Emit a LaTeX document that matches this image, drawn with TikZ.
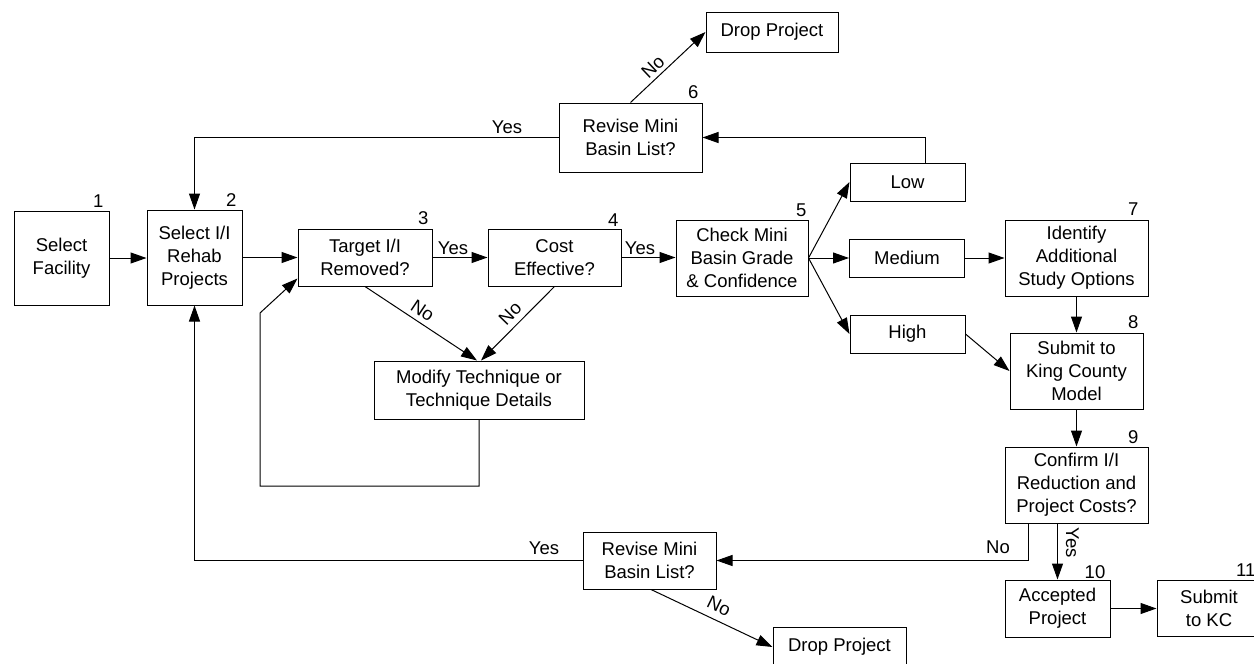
\documentclass[tikz,border=0pt]{standalone}
\usepackage{fontspec}
\setmainfont{Liberation Sans}
\usetikzlibrary{arrows.meta}
\begin{document}
\begin{tikzpicture}[x=1pt,y=-1pt,
  txt/.style={font=\fontsize{18.5}{23}\selectfont},
  box/.style={txt, draw, line width=1pt, rectangle, inner sep=0pt, align=center},
  num/.style={txt, inner sep=0pt, anchor=base east},
  lab/.style={txt, inner sep=0pt},
  conn/.style={line width=1pt},
  arr/.style={conn, -{Triangle[length=16pt,width=11pt]}},
]
\useasboundingbox (0,0) rectangle (1254,664);

% process boxes
\node[box, minimum width=95pt, minimum height=94pt] (b1) at (61.5,258) {Select\\Facility};
\node[box, minimum width=95pt, minimum height=95pt] (b2) at (194.5,257.5) {Select I/I\\Rehab\\Projects};
\node[box, minimum width=134pt, minimum height=57pt] (b3) at (365,257.5) {Target I/I\\Removed?};
\node[box, minimum width=133pt, minimum height=57pt] (b4) at (554.5,257.5) {Cost\\Effective?};
\node[box, minimum width=132pt, minimum height=76pt] (b5) at (742,258) {Check Mini\\Basin Grade\\\& Confidence};
\node[box, minimum width=143pt, minimum height=69pt] (b6) at (630.5,137.5) {Revise Mini\\Basin List?};
\node[box, minimum width=132pt, minimum height=40pt] (dropT) at (772,32) {Drop Project};
\node[box, minimum width=115pt, minimum height=38pt] (low) at (907.5,182) {Low};
\node[box, minimum width=115pt, minimum height=38pt] (med) at (907,258) {Medium};
\node[box, minimum width=115pt, minimum height=38pt] (high) at (907.5,334) {High};
\node[box, minimum width=143pt, minimum height=76pt] (b7) at (1076.5,258) {Identify\\Additional\\Study Options};
\node[box, minimum width=133pt, minimum height=76pt] (b8) at (1076.5,371) {Submit to\\King County\\Model};
\node[box, minimum width=143pt, minimum height=76pt] (b9) at (1076.5,485) {Confirm I/I\\Reduction and\\Project Costs?};
\node[box, minimum width=105pt, minimum height=57pt] (b10) at (1057.5,608.5) {Accepted\\Project};
\node[box, minimum width=104pt, minimum height=56pt] (b11) at (1209,608) {Submit\\to KC};
\node[box, minimum width=210pt, minimum height=58pt] (mod) at (479,390) {Modify Technique or\\Technique Details};
\node[box, minimum width=133pt, minimum height=57pt] (revB) at (649.5,560.5) {Revise Mini\\Basin List?};
\node[box, minimum width=133pt, minimum height=40pt] (dropB) at (839.5,647) {Drop Project};

% step numbers
\node[num] (n1) at ([shift={(-6,-3.5)}]b1.north east) {1};
\node[num] (n2) at ([shift={(-6,-3.5)}]b2.north east) {2};
\node[num] (n3) at ([shift={(-4,-4.5)}]b3.north east) {3};
\node[num] (n4) at ([shift={(-3,-2.5)}]b4.north east) {4};
\node[num] (n5) at ([shift={(-2,-3.5)}]b5.north east) {5};
\node[num] (n6) at ([shift={(-4,-4.5)}]b6.north east) {6};
\node[num] (n7) at ([shift={(-10,-4.5)}]b7.north east) {7};
\node[num] (n8) at ([shift={(-5,-4.5)}]b8.north east) {8};
\node[num] (n9) at ([shift={(-10,-3.5)}]b9.north east) {9};
\node[num] (n10) at ([shift={(-5,-1.5)}]b10.north east) {10};
\node[num] (n11) at ([shift={(-6,-3.5)}]b11.north east) {11};

% main flow
\draw[arr] (b1.east) -- (b1.east -| b2.west);
\draw[arr] (b2.east) -- (b2.east -| b3.west);
\draw[arr] (b3.east) -- (b4.west);
\draw[arr] (b4.east) -- (b4.east -| b5.west);
\draw[arr] (b5.east) -- (low.west);
\draw[arr] (b5.east) -- (med.west);
\draw[arr] (b5.east) -- (high.west);
\draw[arr] (med.east) -- (med.east -| b7.west);
\draw[arr] (high.east) -- (b8.west);
\draw[arr] (b7.south) -- (b8.north);
\draw[arr] (b8.south) -- (b9.north);
\draw[arr] (b9.south -| b10.north) -- (b10.north);
\draw[arr] (b10.east) -- (b10.east -| b11.west);

% low grade: back to revising the mini basin list
\draw[arr] ([xshift=18pt]low.north) |- (b6.east);
\draw[arr] (b6.north) -- (dropT.west);
\draw[arr] (b6.west) -| (b2.north);

% technique loop
\draw[arr] (b3.south) -- ([xshift=-2pt]mod.north);
\draw[arr] (b4.south) -- ([xshift=2pt]mod.north);
\coordinate (lpA) at (260,486);
\coordinate (lpB) at (260,313);
\draw[arr] (mod.south) |- (lpA) -- (lpB) -- ([yshift=8pt]b3.south west);

% confirmation failed
\draw[arr] ([xshift=24pt]b9.south west) |- (revB.east);
\draw[arr] (revB.west) -| (b2.south);
\draw[arr] ([xshift=1.5pt]revB.south) -- (dropB.west);

% decision labels
\node[lab, anchor=base] (y34) at (453,254) {Yes};
\node[lab, anchor=base] (y45) at (640,254) {Yes};
\node[lab, anchor=base] (y62) at (507,133) {Yes};
\node[lab, anchor=base] (yR2) at (544,554) {Yes};
\node[lab, anchor=base] (n9R) at (998,553) {No};
\node[lab, anchor=base, rotate=-90] (y910) at (1066,543) {Yes};
\node[lab, rotate=43.4] (n6D) at (653,66.5) {No};
\node[lab, rotate=-33.8] (n3M) at (422.6,310.8) {No};
\node[lab, rotate=45.8] (n4M) at (510,313.6) {No};
\node[lab, rotate=-26] (nRD) at (719,605.7) {No};
\end{tikzpicture}
\end{document}
